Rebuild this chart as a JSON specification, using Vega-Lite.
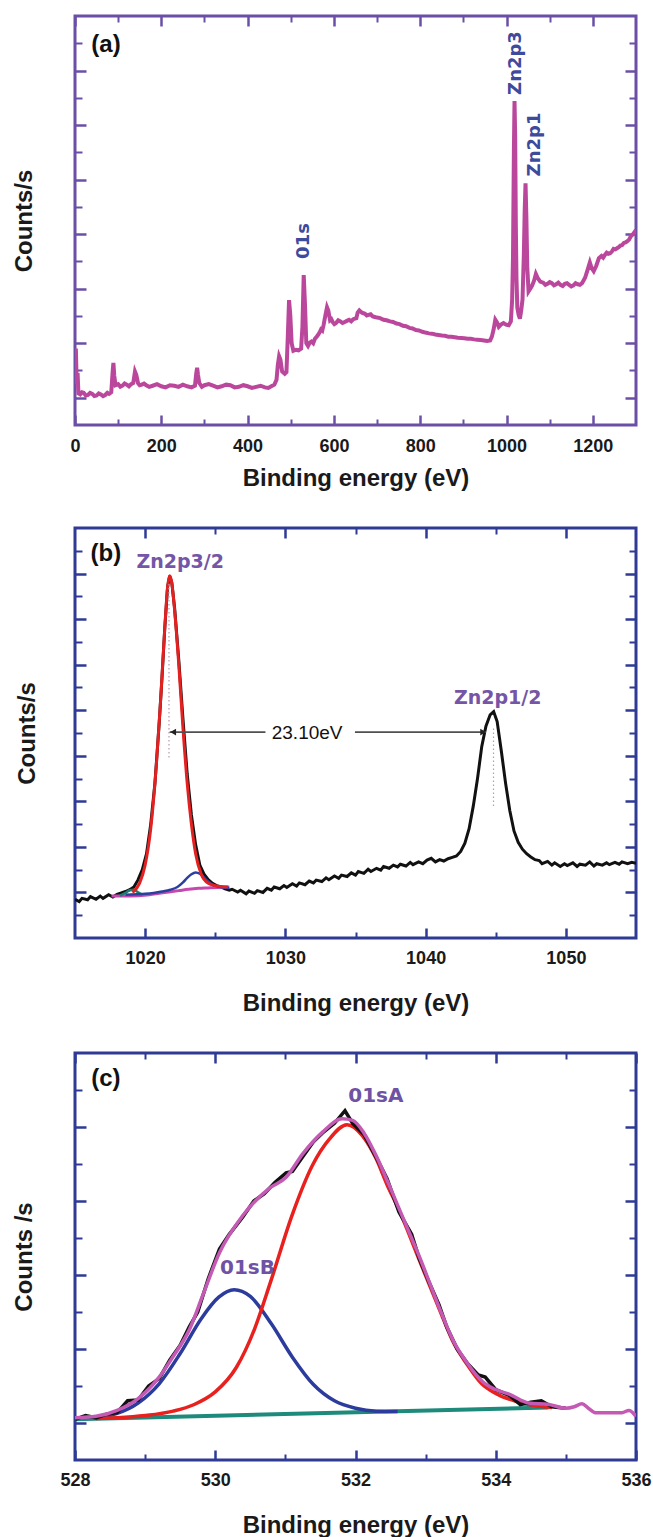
{
  "$schema": "https://vega.github.io/schema/vega-lite/v6.json",
  "padding": {"left": 11, "top": 13, "right": 5, "bottom": 0},
  "spacing": 33,
  "background": "white",
  "config": {
    "view": {"stroke": null},
    "axis": {"minExtent": 0, "grid": false, "domain": false, "zindex": 1, "labelFlush": false, "labelFont": "Liberation Sans", "titleFont": "Liberation Sans", "labelFontSize": 18, "labelFontWeight": "bold", "titleFontSize": 24, "titleFontWeight": "bold", "labelColor": "#1a1a1a", "titleColor": "#1a1a1a", "format": "d"}
  },
  "datasets": {
    "a_line": [
      {"x":0,"y":300},{"x":2,"y":900},{"x":4,"y":250},{"x":6,"y":450},{"x":8,"y":80},{"x":12,"y":60},{"x":16,"y":100},{"x":20,"y":90},{"x":25,"y":40},{"x":30,"y":50},{"x":35,"y":90},{"x":40,"y":70},{"x":45,"y":30},{"x":50,"y":40},{"x":55,"y":80},{"x":60,"y":60},{"x":65,"y":30},{"x":70,"y":50},{"x":75,"y":90},{"x":79,"y":70},{"x":84,"y":100},{"x":87,"y":450},{"x":89,"y":640},{"x":91,"y":400},{"x":94,"y":230},{"x":100,"y":250},{"x":105,"y":200},{"x":110,"y":220},{"x":115,"y":260},{"x":120,"y":240},{"x":125,"y":210},{"x":130,"y":250},{"x":135,"y":270},{"x":139,"y":480},{"x":142,"y":420},{"x":146,"y":270},{"x":150,"y":230},{"x":155,"y":240},{"x":160,"y":260},{"x":165,"y":230},{"x":172,"y":200},{"x":180,"y":220},{"x":190,"y":250},{"x":200,"y":210},{"x":210,"y":190},{"x":220,"y":230},{"x":230,"y":220},{"x":240,"y":200},{"x":250,"y":240},{"x":260,"y":210},{"x":270,"y":190},{"x":278,"y":220},{"x":281,"y":450},{"x":283,"y":550},{"x":285,"y":420},{"x":288,"y":270},{"x":294,"y":200},{"x":300,"y":230},{"x":310,"y":250},{"x":320,"y":220},{"x":330,"y":190},{"x":340,"y":210},{"x":350,"y":240},{"x":360,"y":230},{"x":370,"y":190},{"x":380,"y":200},{"x":390,"y":230},{"x":400,"y":210},{"x":410,"y":180},{"x":420,"y":200},{"x":430,"y":220},{"x":440,"y":190},{"x":448,"y":180},{"x":455,"y":210},{"x":462,"y":240},{"x":467,"y":330},{"x":470,"y":600},{"x":473,"y":760},{"x":476,"y":700},{"x":480,"y":480},{"x":486,"y":440},{"x":490,"y":470},{"x":493,"y":1100},{"x":496,"y":1790},{"x":499,"y":1500},{"x":502,"y":1000},{"x":506,"y":860},{"x":512,"y":880},{"x":518,"y":870},{"x":524,"y":900},{"x":527,"y":1300},{"x":530,"y":2250},{"x":533,"y":1700},{"x":536,"y":1000},{"x":540,"y":950},{"x":544,"y":1010},{"x":548,"y":1030},{"x":552,"y":1000},{"x":556,"y":1080},{"x":560,"y":1120},{"x":563,"y":1150},{"x":567,"y":1200},{"x":570,"y":1250},{"x":573,"y":1230},{"x":576,"y":1330},{"x":580,"y":1500},{"x":584,"y":1660},{"x":587,"y":1600},{"x":591,"y":1420},{"x":594,"y":1440},{"x":597,"y":1390},{"x":601,"y":1350},{"x":605,"y":1370},{"x":610,"y":1420},{"x":615,"y":1400},{"x":620,"y":1370},{"x":625,"y":1390},{"x":630,"y":1410},{"x":635,"y":1430},{"x":640,"y":1400},{"x":645,"y":1440},{"x":652,"y":1460},{"x":655,"y":1560},{"x":659,"y":1600},{"x":665,"y":1560},{"x":672,"y":1540},{"x":676,"y":1510},{"x":680,"y":1520},{"x":685,"y":1530},{"x":690,"y":1490},{"x":695,"y":1480},{"x":700,"y":1470},{"x":707,"y":1460},{"x":715,"y":1430},{"x":722,"y":1420},{"x":730,"y":1400},{"x":737,"y":1390},{"x":745,"y":1360},{"x":752,"y":1350},{"x":760,"y":1320},{"x":767,"y":1310},{"x":775,"y":1280},{"x":782,"y":1270},{"x":790,"y":1240},{"x":797,"y":1235},{"x":805,"y":1210},{"x":812,"y":1195},{"x":820,"y":1180},{"x":827,"y":1175},{"x":835,"y":1160},{"x":842,"y":1150},{"x":850,"y":1140},{"x":857,"y":1135},{"x":865,"y":1120},{"x":872,"y":1120},{"x":880,"y":1110},{"x":887,"y":1100},{"x":895,"y":1095},{"x":902,"y":1090},{"x":910,"y":1080},{"x":917,"y":1080},{"x":925,"y":1070},{"x":932,"y":1065},{"x":940,"y":1060},{"x":948,"y":1050},{"x":955,"y":1040},{"x":962,"y":1050},{"x":966,"y":1120},{"x":970,"y":1250},{"x":974,"y":1430},{"x":978,"y":1380},{"x":982,"y":1300},{"x":987,"y":1340},{"x":993,"y":1370},{"x":999,"y":1340},{"x":1005,"y":1330},{"x":1010,"y":1400},{"x":1013,"y":1800},{"x":1015,"y":2600},{"x":1017,"y":4500},{"x":1018.5,"y":5440},{"x":1020,"y":4800},{"x":1021.5,"y":3200},{"x":1023,"y":2200},{"x":1025,"y":1650},{"x":1028,"y":1520},{"x":1031,"y":1450},{"x":1034,"y":1600},{"x":1037,"y":1800},{"x":1040,"y":2600},{"x":1042,"y":3400},{"x":1044,"y":3930},{"x":1046,"y":3300},{"x":1048,"y":2400},{"x":1051,"y":1950},{"x":1055,"y":2000},{"x":1059,"y":2050},{"x":1064,"y":2150},{"x":1068,"y":2270},{"x":1072,"y":2200},{"x":1078,"y":2130},{"x":1085,"y":2110},{"x":1090,"y":2070},{"x":1095,"y":2090},{"x":1100,"y":2120},{"x":1105,"y":2100},{"x":1110,"y":2060},{"x":1115,"y":2080},{"x":1120,"y":2110},{"x":1125,"y":2070},{"x":1130,"y":2050},{"x":1135,"y":2090},{"x":1140,"y":2100},{"x":1145,"y":2070},{"x":1150,"y":2040},{"x":1155,"y":2060},{"x":1160,"y":2100},{"x":1165,"y":2080},{"x":1170,"y":2070},{"x":1175,"y":2100},{"x":1182,"y":2200},{"x":1188,"y":2350},{"x":1193,"y":2480},{"x":1197,"y":2380},{"x":1202,"y":2320},{"x":1208,"y":2420},{"x":1214,"y":2560},{"x":1220,"y":2600},{"x":1224,"y":2570},{"x":1228,"y":2620},{"x":1232,"y":2660},{"x":1236,"y":2640},{"x":1240,"y":2650},{"x":1244,"y":2680},{"x":1248,"y":2730},{"x":1252,"y":2720},{"x":1256,"y":2740},{"x":1260,"y":2760},{"x":1264,"y":2790},{"x":1268,"y":2800},{"x":1272,"y":2840},{"x":1276,"y":2850},{"x":1280,"y":2870},{"x":1284,"y":2900},{"x":1288,"y":2960},{"x":1292,"y":2990},{"x":1296,"y":3030},{"x":1300,"y":3080}
    ],
    "a_text": [
      {"x":1022,"y":6138,"t":"Zn2p3"},{"x":1066,"y":4644,"t":"Zn2p1"},{"x":530.6,"y":2874,"t":"01s"}
    ],
    "b_black": [
      {"x":1015.0,"y":0.85},{"x":1015.3,"y":0.80},{"x":1015.5,"y":0.87},{"x":1015.9,"y":0.84},{"x":1016.1,"y":0.91},{"x":1016.5,"y":0.85},{"x":1016.8,"y":0.92},{"x":1017.0,"y":0.87},{"x":1017.4,"y":0.95},{"x":1017.7,"y":0.90},{"x":1018.0,"y":0.96},{"x":1018.3,"y":0.99},{"x":1018.6,"y":1.02},{"x":1018.9,"y":1.06},{"x":1019.2,"y":1.12},{"x":1019.5,"y":1.28},{"x":1019.8,"y":1.50},{"x":1020.1,"y":1.85},{"x":1020.4,"y":2.5},{"x":1020.7,"y":3.4},{"x":1021.0,"y":4.7},{"x":1021.2,"y":5.7},{"x":1021.4,"y":6.8},{"x":1021.6,"y":7.7},{"x":1021.75,"y":7.95},{"x":1021.9,"y":7.8},{"x":1022.1,"y":7.25},{"x":1022.4,"y":6.1},{"x":1022.7,"y":4.8},{"x":1023.0,"y":3.6},{"x":1023.3,"y":2.7},{"x":1023.6,"y":2.05},{"x":1023.9,"y":1.6},{"x":1024.2,"y":1.4},{"x":1024.5,"y":1.28},{"x":1024.8,"y":1.2},{"x":1025.1,"y":1.15},{"x":1025.4,"y":1.12},{"x":1025.7,"y":1.08},{"x":1026.0,"y":1.05},{"x":1026.2,"y":1.07},{"x":1026.6,"y":1.01},{"x":1026.8,"y":1.05},{"x":1027.2,"y":0.97},{"x":1027.4,"y":1.03},{"x":1027.8,"y":0.98},{"x":1028.0,"y":1.04},{"x":1028.4,"y":1.0},{"x":1028.7,"y":1.09},{"x":1029.0,"y":1.05},{"x":1029.2,"y":1.12},{"x":1029.6,"y":1.08},{"x":1029.9,"y":1.15},{"x":1030.1,"y":1.11},{"x":1030.5,"y":1.19},{"x":1030.8,"y":1.14},{"x":1031.0,"y":1.21},{"x":1031.4,"y":1.17},{"x":1031.7,"y":1.25},{"x":1032.0,"y":1.21},{"x":1032.2,"y":1.27},{"x":1032.6,"y":1.24},{"x":1032.9,"y":1.32},{"x":1033.1,"y":1.28},{"x":1033.5,"y":1.36},{"x":1033.8,"y":1.31},{"x":1034.0,"y":1.38},{"x":1034.4,"y":1.35},{"x":1034.7,"y":1.43},{"x":1035.0,"y":1.38},{"x":1035.2,"y":1.46},{"x":1035.6,"y":1.42},{"x":1035.9,"y":1.51},{"x":1036.1,"y":1.46},{"x":1036.5,"y":1.53},{"x":1036.8,"y":1.49},{"x":1037.0,"y":1.57},{"x":1037.4,"y":1.53},{"x":1037.7,"y":1.6},{"x":1038.0,"y":1.56},{"x":1038.2,"y":1.62},{"x":1038.6,"y":1.58},{"x":1038.9,"y":1.66},{"x":1039.1,"y":1.61},{"x":1039.5,"y":1.67},{"x":1039.8,"y":1.63},{"x":1040.1,"y":1.71},{"x":1040.4,"y":1.75},{"x":1040.7,"y":1.67},{"x":1041.0,"y":1.72},{"x":1041.3,"y":1.69},{"x":1041.6,"y":1.74},{"x":1041.9,"y":1.77},{"x":1042.2,"y":1.8},{"x":1042.5,"y":1.9},{"x":1042.8,"y":2.08},{"x":1043.1,"y":2.4},{"x":1043.4,"y":2.9},{"x":1043.7,"y":3.5},{"x":1044.0,"y":4.2},{"x":1044.3,"y":4.65},{"x":1044.6,"y":4.9},{"x":1044.85,"y":4.97},{"x":1045.1,"y":4.75},{"x":1045.4,"y":4.1},{"x":1045.7,"y":3.4},{"x":1046.0,"y":2.8},{"x":1046.3,"y":2.35},{"x":1046.6,"y":2.1},{"x":1046.9,"y":1.95},{"x":1047.2,"y":1.85},{"x":1047.5,"y":1.78},{"x":1047.8,"y":1.72},{"x":1048.1,"y":1.7},{"x":1048.3,"y":1.63},{"x":1048.7,"y":1.68},{"x":1049.0,"y":1.6},{"x":1049.2,"y":1.65},{"x":1049.6,"y":1.57},{"x":1049.9,"y":1.63},{"x":1050.1,"y":1.59},{"x":1050.5,"y":1.65},{"x":1050.8,"y":1.57},{"x":1051.0,"y":1.62},{"x":1051.4,"y":1.6},{"x":1051.7,"y":1.67},{"x":1052.0,"y":1.58},{"x":1052.2,"y":1.63},{"x":1052.6,"y":1.6},{"x":1052.9,"y":1.65},{"x":1053.1,"y":1.61},{"x":1053.5,"y":1.66},{"x":1053.8,"y":1.62},{"x":1054.0,"y":1.67},{"x":1054.4,"y":1.63},{"x":1054.7,"y":1.66},{"x":1055.0,"y":1.64}
    ],
    "b_red": [
      {"x":1019.1,"y":1.0},{"x":1019.6,"y":1.2},{"x":1020.0,"y":1.6},{"x":1020.4,"y":2.4},{"x":1020.8,"y":3.8},{"x":1021.1,"y":5.2},{"x":1021.4,"y":6.8},{"x":1021.6,"y":7.7},{"x":1021.75,"y":7.95},{"x":1021.9,"y":7.8},{"x":1022.1,"y":7.2},{"x":1022.4,"y":6.0},{"x":1022.7,"y":4.6},{"x":1023.0,"y":3.4},{"x":1023.3,"y":2.5},{"x":1023.6,"y":1.85},{"x":1024.0,"y":1.4},{"x":1024.5,"y":1.2},{"x":1025.0,"y":1.15},{"x":1025.9,"y":1.12}
    ],
    "b_blue": [
      {"x":1018.6,"y":0.95},{"x":1019.4,"y":0.96},{"x":1020.0,"y":0.97},{"x":1020.6,"y":0.99},{"x":1021.2,"y":1.02},{"x":1021.8,"y":1.06},{"x":1022.3,"y":1.12},{"x":1022.7,"y":1.22},{"x":1023.0,"y":1.32},{"x":1023.3,"y":1.40},{"x":1023.6,"y":1.44},{"x":1023.9,"y":1.41},{"x":1024.2,"y":1.33},{"x":1024.5,"y":1.24},{"x":1024.8,"y":1.17},{"x":1025.2,"y":1.13},{"x":1025.6,"y":1.11},{"x":1026.0,"y":1.10}
    ],
    "b_mag": [
      {"x":1017.6,"y":0.92},{"x":1018.5,"y":0.92},{"x":1019.5,"y":0.93},{"x":1020.3,"y":0.95},{"x":1021.0,"y":0.98},{"x":1021.7,"y":1.01},{"x":1022.4,"y":1.04},{"x":1023.1,"y":1.07},{"x":1023.8,"y":1.09},{"x":1024.5,"y":1.1},{"x":1025.2,"y":1.11},{"x":1026.0,"y":1.12}
    ],
    "b_teal": [
      {"x":1018.2,"y":0.93},{"x":1018.6,"y":0.99},{"x":1018.9,"y":1.05},{"x":1019.2,"y":1.06},{"x":1019.5,"y":1.0},{"x":1019.8,"y":0.95}
    ],
    "b_dots": [
      {"x":1021.7,"y":3.96,"y2":7.77},{"x":1044.84,"y":2.9,"y2":4.62}
    ],
    "b_arrow": [
      {"x":1021.75,"x2":1028.58,"y":4.52},{"x":1034.96,"x2":1044.3,"y":4.52}
    ],
    "b_text": [
      {"x":1022.5,"y":8.25,"t":"Zn2p3/2"},{"x":1045.14,"y":5.26,"t":"Zn2p1/2"}
    ],
    "c_teal": [
      {"x":528.0,"y":1.05},{"x":534.75,"y":1.21}
    ],
    "c_blue": [
      {"x":528.3,"y":1.077},{"x":528.6,"y":1.13},{"x":528.9,"y":1.27},{"x":529.2,"y":1.53},{"x":529.5,"y":1.94},{"x":529.8,"y":2.41},{"x":530.05,"y":2.70},{"x":530.27,"y":2.80},{"x":530.5,"y":2.71},{"x":530.8,"y":2.34},{"x":531.1,"y":1.89},{"x":531.4,"y":1.52},{"x":531.7,"y":1.30},{"x":532.0,"y":1.20},{"x":532.3,"y":1.16},{"x":532.6,"y":1.155}
    ],
    "c_red": [
      {"x":528.3,"y":1.06},{"x":528.6,"y":1.07},{"x":529.0,"y":1.10},{"x":529.4,"y":1.16},{"x":529.7,"y":1.25},{"x":530.0,"y":1.42},{"x":530.3,"y":1.75},{"x":530.56,"y":2.27},{"x":530.79,"y":2.91},{"x":531.1,"y":3.82},{"x":531.39,"y":4.49},{"x":531.63,"y":4.84},{"x":531.88,"y":5.03},{"x":532.1,"y":4.88},{"x":532.29,"y":4.58},{"x":532.45,"y":4.22},{"x":532.62,"y":3.88},{"x":532.91,"y":3.2},{"x":533.19,"y":2.55},{"x":533.4,"y":2.08},{"x":533.6,"y":1.78},{"x":533.8,"y":1.53},{"x":534.0,"y":1.40},{"x":534.3,"y":1.29},{"x":534.6,"y":1.23},{"x":534.8,"y":1.21}
    ],
    "c_black": [
      {"x":528.0,"y":1.05},{"x":528.15,"y":1.1},{"x":528.3,"y":1.07},{"x":528.45,"y":1.12},{"x":528.6,"y":1.14},{"x":528.75,"y":1.3},{"x":528.9,"y":1.31},{"x":529.05,"y":1.5},{"x":529.2,"y":1.6},{"x":529.35,"y":1.85},{"x":529.5,"y":2.05},{"x":529.63,"y":2.3},{"x":529.75,"y":2.5},{"x":529.9,"y":2.95},{"x":530.06,"y":3.35},{"x":530.2,"y":3.55},{"x":530.39,"y":3.78},{"x":530.55,"y":4.0},{"x":530.7,"y":4.1},{"x":530.85,"y":4.25},{"x":531.01,"y":4.38},{"x":531.1,"y":4.4},{"x":531.25,"y":4.6},{"x":531.4,"y":4.8},{"x":531.53,"y":4.92},{"x":531.7,"y":5.05},{"x":531.85,"y":5.22},{"x":531.96,"y":5.05},{"x":532.12,"y":4.9},{"x":532.29,"y":4.6},{"x":532.45,"y":4.3},{"x":532.62,"y":3.85},{"x":532.8,"y":3.55},{"x":532.91,"y":3.22},{"x":533.05,"y":2.9},{"x":533.19,"y":2.6},{"x":533.3,"y":2.3},{"x":533.45,"y":2.0},{"x":533.6,"y":1.8},{"x":533.75,"y":1.65},{"x":533.85,"y":1.62},{"x":534.0,"y":1.45},{"x":534.2,"y":1.37},{"x":534.35,"y":1.25},{"x":534.5,"y":1.28},{"x":534.65,"y":1.3},{"x":534.8,"y":1.22},{"x":535.0,"y":1.2}
    ],
    "c_mag": [
      {"x":528.0,"y":1.07},{"x":528.3,"y":1.09},{"x":528.6,"y":1.17},{"x":528.9,"y":1.33},{"x":529.2,"y":1.62},{"x":529.4,"y":1.9},{"x":529.63,"y":2.26},{"x":529.82,"y":2.72},{"x":530.06,"y":3.3},{"x":530.39,"y":3.8},{"x":530.77,"y":4.17},{"x":531.01,"y":4.32},{"x":531.25,"y":4.64},{"x":531.53,"y":4.93},{"x":531.81,"y":5.11},{"x":531.96,"y":5.09},{"x":532.12,"y":4.92},{"x":532.29,"y":4.62},{"x":532.45,"y":4.28},{"x":532.62,"y":3.9},{"x":532.91,"y":3.25},{"x":533.19,"y":2.57},{"x":533.4,"y":2.1},{"x":533.6,"y":1.8},{"x":533.81,"y":1.56},{"x":534.0,"y":1.45},{"x":534.19,"y":1.39},{"x":534.47,"y":1.27},{"x":534.76,"y":1.25},{"x":535.0,"y":1.2},{"x":535.12,"y":1.22},{"x":535.23,"y":1.26},{"x":535.32,"y":1.2},{"x":535.42,"y":1.14},{"x":535.6,"y":1.14},{"x":535.8,"y":1.14},{"x":535.9,"y":1.17},{"x":536.0,"y":1.09}
    ],
    "c_text": [
      {"x":532.29,"y":5.42,"t":"01sA"},{"x":530.46,"y":3.10,"t":"01sB"}
    ]
  },
  "vconcat": [
    {
      "width": 561, "height": 409,
      "view": {"stroke": "#6b4fa6", "strokeWidth": 3},
      "resolve": {"axis": {"x": "independent", "y": "independent"}},
      "layer": [
        {"data": {"name": "a_line"}, "mark": {"type": "line", "color": "#bb479d", "strokeWidth": 4, "clip": true},
         "encoding": {"x": {"field": "x", "type": "quantitative", "scale": {"domain": [0, 1300], "nice": false, "zero": false}, "axis": null},
                      "y": {"field": "y", "type": "quantitative", "scale": {"domain": [-500, 7000], "nice": false, "zero": false}, "axis": null}}},
        {"data": {"values": [{"x": 600, "y": 1000}]}, "mark": {"type": "point", "opacity": 0},
         "encoding": {"x": {"field": "x", "type": "quantitative", "scale": {"domain": [0, 1300], "nice": false, "zero": false}, "axis": {"orient": "bottom", "values": [0,200,400,600,800,1000,1200], "tickSize": -10, "tickWidth": 2.5, "tickColor": "#6b4fa6", "labelPadding": 22, "title": "Binding energy (eV)", "titlePadding": 11}},
                      "y": {"field": "y", "type": "quantitative", "scale": {"domain": [-500, 7000], "nice": false, "zero": false}, "axis": {"orient": "left", "values": [0,1000,2000,3000,4000,5000,6000], "tickSize": -11, "tickWidth": 2.5, "tickColor": "#6b4fa6", "labels": false, "title": "Counts/s", "titlePadding": 37}}}},
        {"data": {"values": [{"x": 600, "y": 1000}]}, "mark": {"type": "point", "opacity": 0},
         "encoding": {"x": {"field": "x", "type": "quantitative", "scale": {"domain": [0, 1300], "nice": false, "zero": false}, "axis": {"orient": "top", "values": [0,200,400,600,800,1000,1200], "tickSize": -10, "tickWidth": 2.5, "tickColor": "#6b4fa6", "labels": false, "title": null}},
                      "y": {"field": "y", "type": "quantitative", "scale": {"domain": [-500, 7000], "nice": false, "zero": false}, "axis": {"orient": "right", "values": [0,1000,2000,3000,4000,5000,6000], "tickSize": -11, "tickWidth": 2.5, "tickColor": "#6b4fa6", "labels": false, "title": null}}}},
        {"data": {"values": [{"x": 600, "y": 1000}]}, "mark": {"type": "point", "opacity": 0},
         "encoding": {"x": {"field": "x", "type": "quantitative", "scale": {"domain": [0, 1300], "nice": false, "zero": false}, "axis": {"orient": "bottom", "values": [100,300,500,700,900,1100], "tickSize": -6, "tickWidth": 2, "tickColor": "#6b4fa6", "labels": false, "title": null}},
                      "y": {"field": "y", "type": "quantitative", "scale": {"domain": [-500, 7000], "nice": false, "zero": false}, "axis": {"orient": "left", "values": [500,1500,2500,3500,4500,5500,6500], "tickSize": -7, "tickWidth": 2, "tickColor": "#6b4fa6", "labels": false, "title": null}}}},
        {"data": {"values": [{"x": 600, "y": 1000}]}, "mark": {"type": "point", "opacity": 0},
         "encoding": {"x": {"field": "x", "type": "quantitative", "scale": {"domain": [0, 1300], "nice": false, "zero": false}, "axis": {"orient": "top", "values": [100,300,500,700,900,1100], "tickSize": -6, "tickWidth": 2, "tickColor": "#6b4fa6", "labels": false, "title": null}},
                      "y": {"field": "y", "type": "quantitative", "scale": {"domain": [-500, 7000], "nice": false, "zero": false}, "axis": {"orient": "right", "values": [500,1500,2500,3500,4500,5500,6500], "tickSize": -7, "tickWidth": 2, "tickColor": "#6b4fa6", "labels": false, "title": null}}}},
        {"data": {"name": "a_text"}, "mark": {"type": "text", "angle": 270, "font": "DejaVu Sans", "fontWeight": "bold", "fontSize": 18, "color": "#3e4a9b", "align": "center", "baseline": "middle"},
         "encoding": {"x": {"field": "x", "type": "quantitative", "scale": {"domain": [0, 1300], "nice": false, "zero": false}, "axis": null},
                      "y": {"field": "y", "type": "quantitative", "scale": {"domain": [-500, 7000], "nice": false, "zero": false}, "axis": null},
                      "text": {"field": "t"}}},
        {"data": {"values": [{"x": 71.8, "y": 6468, "t": "(a)"}]}, "mark": {"type": "text", "font": "Liberation Sans", "fontWeight": "bold", "fontSize": 24, "color": "#111", "align": "center", "baseline": "middle"},
         "encoding": {"x": {"field": "x", "type": "quantitative", "scale": {"domain": [0, 1300], "nice": false, "zero": false}, "axis": null},
                      "y": {"field": "y", "type": "quantitative", "scale": {"domain": [-500, 7000], "nice": false, "zero": false}, "axis": null},
                      "text": {"field": "t"}}}
      ]
    },
    {
      "width": 561, "height": 410,
      "view": {"stroke": "#2e3a94", "strokeWidth": 3},
      "resolve": {"axis": {"x": "independent", "y": "independent"}},
      "encoding": {
        "x": {"field": "x", "type": "quantitative", "scale": {"domain": [1015, 1055], "nice": false, "zero": false}, "axis": null},
        "y": {"field": "y", "type": "quantitative", "scale": {"domain": [0, 9], "nice": false, "zero": false}, "axis": null}
      },
      "layer": [
        {"data": {"name": "b_black"}, "mark": {"type": "line", "color": "#111111", "strokeWidth": 3, "clip": true}},
        {"data": {"name": "b_mag"}, "mark": {"type": "line", "color": "#c548b0", "strokeWidth": 3, "clip": true, "interpolate": "monotone"}},
        {"data": {"name": "b_teal"}, "mark": {"type": "line", "color": "#1d7f74", "strokeWidth": 2.5, "clip": true, "interpolate": "monotone"}},
        {"data": {"name": "b_blue"}, "mark": {"type": "line", "color": "#2b3fa0", "strokeWidth": 2.5, "clip": true, "interpolate": "monotone"}},
        {"data": {"name": "b_red"}, "mark": {"type": "line", "color": "#e42020", "strokeWidth": 3, "clip": true, "interpolate": "monotone"}},
        {"data": {"name": "b_dots"}, "mark": {"type": "rule", "color": "#b89aae", "strokeWidth": 1.2, "strokeDash": [1.5, 2.5]},
         "encoding": {"y2": {"field": "y2"}}},
        {"data": {"name": "b_arrow"}, "mark": {"type": "rule", "color": "#505050", "strokeWidth": 1.6},
         "encoding": {"x2": {"field": "x2"}}},
        {"data": {"values": [{"x": 1022.0, "y": 4.52}]}, "mark": {"type": "point", "shape": "triangle-left", "filled": true, "size": 45, "color": "#222", "opacity": 1}},
        {"data": {"values": [{"x": 1044.1, "y": 4.52}]}, "mark": {"type": "point", "shape": "triangle-right", "filled": true, "size": 45, "color": "#222", "opacity": 1}},
        {"data": {"values": [{"x": 1031.55, "y": 4.51, "t": "23.10eV"}]}, "mark": {"type": "text", "font": "Liberation Sans", "fontSize": 19, "color": "#111", "align": "center", "baseline": "middle"},
         "encoding": {"text": {"field": "t"}}},
        {"data": {"name": "b_text"}, "mark": {"type": "text", "font": "DejaVu Sans", "fontWeight": "bold", "fontSize": 19, "color": "#7455a6", "align": "center", "baseline": "middle"},
         "encoding": {"text": {"field": "t"}}},
        {"data": {"values": [{"x": 1017.2, "y": 8.43, "t": "(b)"}]}, "mark": {"type": "text", "font": "Liberation Sans", "fontWeight": "bold", "fontSize": 24, "color": "#111", "align": "center", "baseline": "middle"},
         "encoding": {"text": {"field": "t"}}},
        {"data": {"values": [{"x": 1030, "y": 3}]}, "mark": {"type": "point", "opacity": 0},
         "encoding": {"x": {"field": "x", "type": "quantitative", "scale": {"domain": [1015, 1055], "nice": false, "zero": false}, "axis": {"orient": "bottom", "values": [1020,1030,1040,1050], "tickSize": -10, "tickWidth": 2.5, "tickColor": "#2e3a94", "labelPadding": 21, "title": "Binding energy (eV)", "titlePadding": 24}},
                      "y": {"field": "y", "type": "quantitative", "scale": {"domain": [0, 9], "nice": false, "zero": false}, "axis": {"orient": "left", "values": [1,2,3,4,5,6,7,8], "tickSize": -11, "tickWidth": 2.5, "tickColor": "#2e3a94", "labels": false, "title": "Counts/s", "titlePadding": 34}}}},
        {"data": {"values": [{"x": 1030, "y": 3}]}, "mark": {"type": "point", "opacity": 0},
         "encoding": {"x": {"field": "x", "type": "quantitative", "scale": {"domain": [1015, 1055], "nice": false, "zero": false}, "axis": {"orient": "top", "values": [1020,1030,1040,1050], "tickSize": -10, "tickWidth": 2.5, "tickColor": "#2e3a94", "labels": false, "title": null}},
                      "y": {"field": "y", "type": "quantitative", "scale": {"domain": [0, 9], "nice": false, "zero": false}, "axis": {"orient": "right", "values": [1,2,3,4,5,6,7,8], "tickSize": -11, "tickWidth": 2.5, "tickColor": "#2e3a94", "labels": false, "title": null}}}},
        {"data": {"values": [{"x": 1030, "y": 3}]}, "mark": {"type": "point", "opacity": 0},
         "encoding": {"x": {"field": "x", "type": "quantitative", "scale": {"domain": [1015, 1055], "nice": false, "zero": false}, "axis": {"orient": "bottom", "values": [1025,1035,1045], "tickSize": -6, "tickWidth": 2, "tickColor": "#2e3a94", "labels": false, "title": null}},
                      "y": {"field": "y", "type": "quantitative", "scale": {"domain": [0, 9], "nice": false, "zero": false}, "axis": {"orient": "left", "values": [0.5,1.5,2.5,3.5,4.5,5.5,6.5,7.5,8.5], "tickSize": -7, "tickWidth": 2, "tickColor": "#2e3a94", "labels": false, "title": null}}}},
        {"data": {"values": [{"x": 1030, "y": 3}]}, "mark": {"type": "point", "opacity": 0},
         "encoding": {"x": {"field": "x", "type": "quantitative", "scale": {"domain": [1015, 1055], "nice": false, "zero": false}, "axis": {"orient": "top", "values": [1025,1035,1045], "tickSize": -6, "tickWidth": 2, "tickColor": "#2e3a94", "labels": false, "title": null}},
                      "y": {"field": "y", "type": "quantitative", "scale": {"domain": [0, 9], "nice": false, "zero": false}, "axis": {"orient": "right", "values": [0.5,1.5,2.5,3.5,4.5,5.5,6.5,7.5,8.5], "tickSize": -7, "tickWidth": 2, "tickColor": "#2e3a94", "labels": false, "title": null}}}}
      ]
    },
    {
      "width": 561, "height": 407,
      "view": {"stroke": "#2e3a94", "strokeWidth": 3},
      "resolve": {"axis": {"x": "independent", "y": "independent"}},
      "encoding": {
        "x": {"field": "x", "type": "quantitative", "scale": {"domain": [528, 536], "nice": false, "zero": false}, "axis": null},
        "y": {"field": "y", "type": "quantitative", "scale": {"domain": [0.5, 6], "nice": false, "zero": false}, "axis": null}
      },
      "layer": [
        {"data": {"name": "c_teal"}, "mark": {"type": "line", "color": "#1d8a7c", "strokeWidth": 4, "clip": true}},
        {"data": {"name": "c_blue"}, "mark": {"type": "line", "color": "#2c3c9c", "strokeWidth": 3.5, "clip": true, "interpolate": "monotone"}},
        {"data": {"name": "c_red"}, "mark": {"type": "line", "color": "#e8201e", "strokeWidth": 3.5, "clip": true, "interpolate": "monotone"}},
        {"data": {"name": "c_black"}, "mark": {"type": "line", "color": "#111111", "strokeWidth": 3.5, "clip": true}},
        {"data": {"name": "c_mag"}, "mark": {"type": "line", "color": "#c45ab4", "strokeWidth": 3.5, "clip": true, "interpolate": "monotone"}},
        {"data": {"name": "c_text"}, "mark": {"type": "text", "font": "DejaVu Sans", "fontWeight": "bold", "fontSize": 20, "color": "#6f52a3", "align": "center", "baseline": "middle"},
         "encoding": {"text": {"field": "t"}}},
        {"data": {"values": [{"x": 528.44, "y": 5.65, "t": "(c)"}]}, "mark": {"type": "text", "font": "Liberation Sans", "fontWeight": "bold", "fontSize": 24, "color": "#111", "align": "center", "baseline": "middle"},
         "encoding": {"text": {"field": "t"}}},
        {"data": {"values": [{"x": 532, "y": 3}]}, "mark": {"type": "point", "opacity": 0},
         "encoding": {"x": {"field": "x", "type": "quantitative", "scale": {"domain": [528, 536], "nice": false, "zero": false}, "axis": {"orient": "bottom", "values": [528,530,532,534,536], "tickSize": -10, "tickWidth": 2.5, "tickColor": "#2e3a94", "labelPadding": 21, "title": "Binding energy (eV)", "titlePadding": 24}},
                      "y": {"field": "y", "type": "quantitative", "scale": {"domain": [0.5, 6], "nice": false, "zero": false}, "axis": {"orient": "left", "values": [1,2,3,4,5], "tickSize": -11, "tickWidth": 2.5, "tickColor": "#2e3a94", "labels": false, "title": "Counts /s", "titlePadding": 37}}}},
        {"data": {"values": [{"x": 532, "y": 3}]}, "mark": {"type": "point", "opacity": 0},
         "encoding": {"x": {"field": "x", "type": "quantitative", "scale": {"domain": [528, 536], "nice": false, "zero": false}, "axis": {"orient": "top", "values": [528,530,532,534,536], "tickSize": -10, "tickWidth": 2.5, "tickColor": "#2e3a94", "labels": false, "title": null}},
                      "y": {"field": "y", "type": "quantitative", "scale": {"domain": [0.5, 6], "nice": false, "zero": false}, "axis": {"orient": "right", "values": [1,2,3,4,5], "tickSize": -11, "tickWidth": 2.5, "tickColor": "#2e3a94", "labels": false, "title": null}}}},
        {"data": {"values": [{"x": 532, "y": 3}]}, "mark": {"type": "point", "opacity": 0},
         "encoding": {"x": {"field": "x", "type": "quantitative", "scale": {"domain": [528, 536], "nice": false, "zero": false}, "axis": {"orient": "bottom", "values": [529,531,533,535], "tickSize": -6, "tickWidth": 2, "tickColor": "#2e3a94", "labels": false, "title": null}},
                      "y": {"field": "y", "type": "quantitative", "scale": {"domain": [0.5, 6], "nice": false, "zero": false}, "axis": {"orient": "left", "values": [1.5,2.5,3.5,4.5,5.5], "tickSize": -7, "tickWidth": 2, "tickColor": "#2e3a94", "labels": false, "title": null}}}},
        {"data": {"values": [{"x": 532, "y": 3}]}, "mark": {"type": "point", "opacity": 0},
         "encoding": {"x": {"field": "x", "type": "quantitative", "scale": {"domain": [528, 536], "nice": false, "zero": false}, "axis": {"orient": "top", "values": [529,531,533,535], "tickSize": -6, "tickWidth": 2, "tickColor": "#2e3a94", "labels": false, "title": null}},
                      "y": {"field": "y", "type": "quantitative", "scale": {"domain": [0.5, 6], "nice": false, "zero": false}, "axis": {"orient": "right", "values": [1.5,2.5,3.5,4.5,5.5], "tickSize": -7, "tickWidth": 2, "tickColor": "#2e3a94", "labels": false, "title": null}}}}
      ]
    }
  ]
}
